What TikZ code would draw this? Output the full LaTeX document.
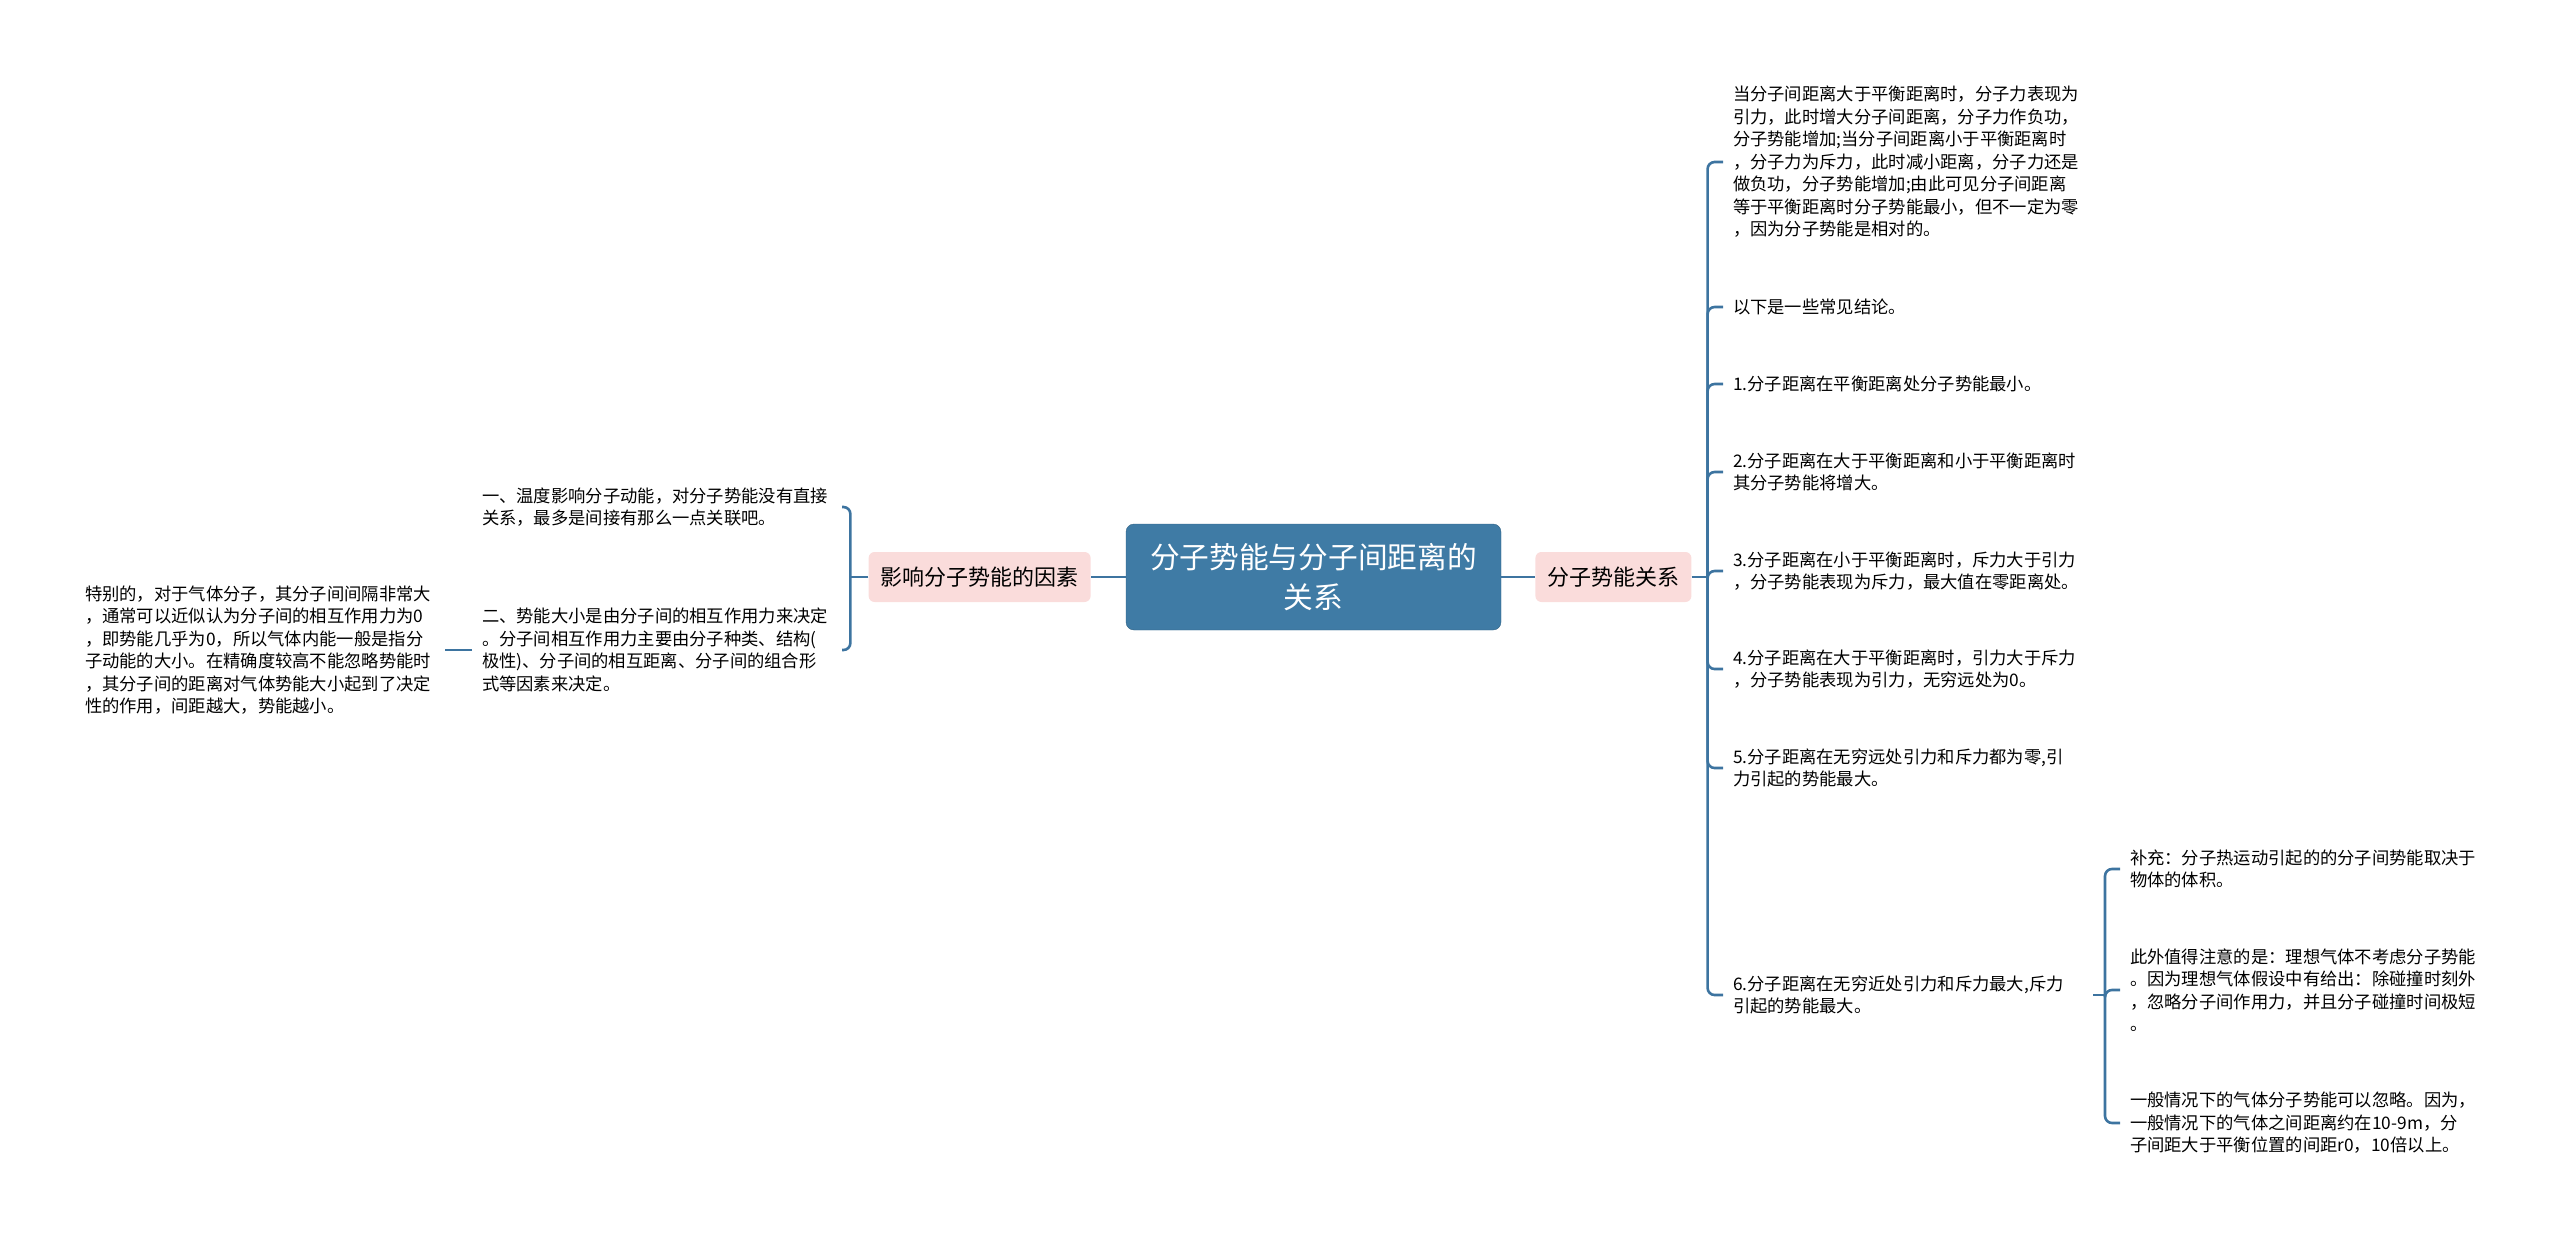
\documentclass[tikz,border=0pt]{standalone}
\usepackage{fontspec}
\setmainfont{Noto Sans CJK SC}
\usetikzlibrary{positioning}

\definecolor{linkblue}{HTML}{3D74A0}
\definecolor{rootblue}{HTML}{3F7BA5}
\definecolor{topicpink}{HTML}{FADCDB}

\begin{document}
\begin{tikzpicture}[
                x=1pt, y=-1pt,
                root/.style={draw=rootblue!80!black, fill=rootblue, text=white, rounded corners=8pt,
                    minimum width=375pt, minimum height=106pt, align=center,
                    font=\fontsize{29.7}{40}\selectfont},
                topic/.style={fill=topicpink, rounded corners=6pt, minimum height=50pt, inner xsep=12pt,
                    font=\fontsize{22}{26}\selectfont},
                leaf/.style={inner sep=0pt, outer xsep=10pt, text width=350pt, align=left,
                    font=\fontsize{17.3}{22.5}\selectfont},
                link/.style={draw=linkblue, line width=2.6pt, rounded corners=7pt}
            ]
            \useasboundingbox (0,0) rectangle (2560,1239);

            % Define nodes
            \node[root] (root) at (1313.5,577) {分子势能与分子间距离的\\关系};
            \node[topic, right=34pt of root] (rnode) {分子势能关系};
            \node[topic, left=35pt of root] (lnode) {影响分子势能的因素};

            % Right branch
            \node[leaf, anchor=west] (r1) at (1723,162) {当分子间距离大于平衡距离时，分子力表现为\\引力，此时增大分子间距离，分子力作负功，\\分子势能增加;当分子间距离小于平衡距离时\\，分子力为斥力，此时减小距离，分子力还是\\做负功，分子势能增加;由此可见分子间距离\\等于平衡距离时分子势能最小，但不一定为零\\，因为分子势能是相对的。};
            \node[leaf, anchor=west] (r2) at (1723,307) {以下是一些常见结论。};
            \node[leaf, anchor=west] (r3) at (1723,384) {1.分子距离在平衡距离处分子势能最小。};
            \node[leaf, anchor=west] (r4) at (1723,472) {2.分子距离在大于平衡距离和小于平衡距离时\\其分子势能将增大。};
            \node[leaf, anchor=west] (r5) at (1723,571) {3.分子距离在小于平衡距离时，斥力大于引力\\，分子势能表现为斥力，最大值在零距离处。};
            \node[leaf, anchor=west] (r6) at (1723,669) {4.分子距离在大于平衡距离时，引力大于斥力\\，分子势能表现为引力，无穷远处为0。};
            \node[leaf, anchor=west] (r7) at (1723,768) {5.分子距离在无穷远处引力和斥力都为零,引\\力引起的势能最大。};
            \node[leaf, anchor=west] (r8) at (1723,995) {6.分子距离在无穷近处引力和斥力最大,斥力\\引起的势能最大。};

            % Sub branch of 6.
            \node[leaf, anchor=west] (s1) at (2120,869) {补充：分子热运动引起的的分子间势能取决于\\物体的体积。};
            \node[leaf, anchor=west] (s2) at (2120,990) {此外值得注意的是：理想气体不考虑分子势能\\。因为理想气体假设中有给出：除碰撞时刻外\\，忽略分子间作用力，并且分子碰撞时间极短\\。};
            \node[leaf, anchor=west] (s3) at (2120,1123) {一般情况下的气体分子势能可以忽略。因为，\\一般情况下的气体之间距离约在10-9m，分\\子间距大于平衡位置的间距r0，10倍以上。};

            % Left branch
            \node[leaf, anchor=east] (l1) at (842,507) {一、温度影响分子动能，对分子势能没有直接\\关系，最多是间接有那么一点关联吧。};
            \node[leaf, anchor=east] (l2) at (842,650) {二、势能大小是由分子间的相互作用力来决定\\。分子间相互作用力主要由分子种类、结构(\\极性)、分子间的相互距离、分子间的组合形\\式等因素来决定。};
            \node[leaf, anchor=east] (l3) at (445,650) {特别的，对于气体分子，其分子间间隔非常大\\，通常可以近似认为分子间的相互作用力为0\\，即势能几乎为0，所以气体内能一般是指分\\子动能的大小。在精确度较高不能忽略势能时\\，其分子间的距离对气体势能大小起到了决定\\性的作用，间距越大，势能越小。};

            % Hubs
            \coordinate (rhub) at ([xshift=16pt]rnode.east);
            \coordinate (lhub) at ([xshift=-18pt]lnode.west);
            \coordinate (shub) at ([xshift=12pt]r8.east);

            % Connectors
            \draw[link] (root.east) -- (rnode.west);
            \draw[link] (rnode.east) -- (rhub);
            \foreach \c in {r1,r2,r3,r4,r5,r6,r7,r8}
                \draw[link] (rhub) |- (\c.west);

            \draw[link] (r8.east) -- (shub);
            \foreach \c in {s1,s2,s3}
                \draw[link] (shub) |- (\c.west);

            \draw[link] (root.west) -- (lnode.east);
            \draw[link] (lnode.west) -- (lhub);
            \foreach \c in {l1,l2}
                \draw[link] (lhub) |- (\c.east);
            \draw[link] (l2.west) -- (l3.east);

        \end{tikzpicture}
\end{document}
